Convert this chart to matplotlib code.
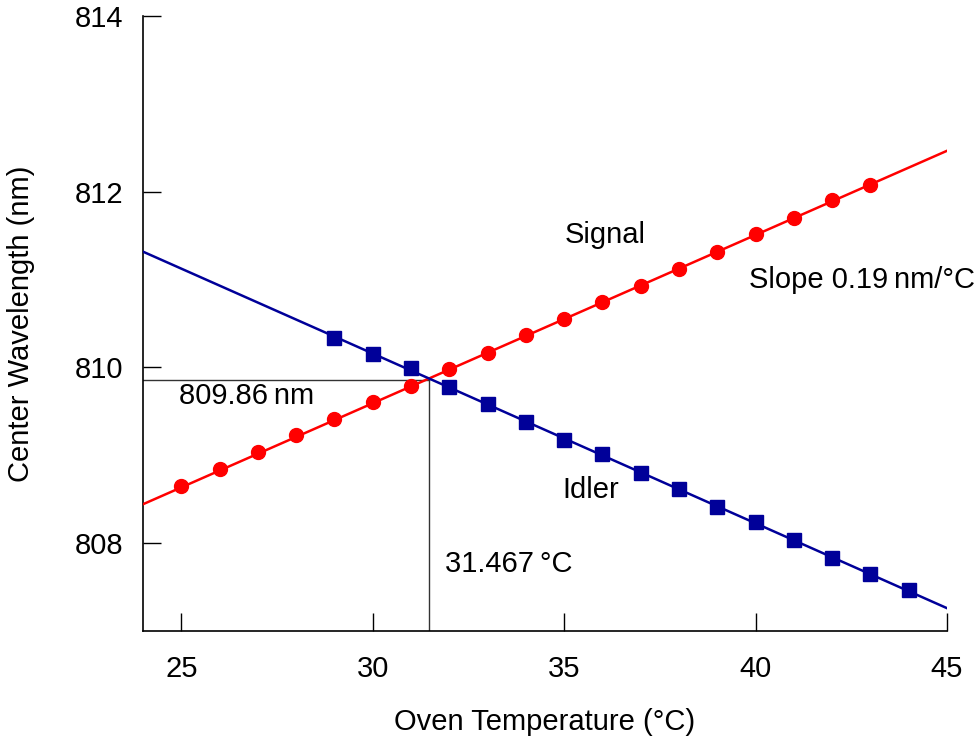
import matplotlib
matplotlib.use("Agg")
import matplotlib.pyplot as plt
import numpy as np

plt.rcParams['font.family'] = ['Liberation Sans', 'DejaVu Sans']

signal_T = [25, 26, 27, 28, 29, 30, 31, 32, 33, 34, 35, 36, 37, 38, 39, 40, 41, 42, 43]
signal_nm = [808.648, 808.841, 809.034, 809.227, 809.409, 809.602, 809.784, 809.977,
             810.159, 810.364, 810.557, 810.750, 810.932, 811.125, 811.318, 811.523,
             811.705, 811.909, 812.080]
idler_T = [29, 30, 31, 32, 33, 34, 35, 36, 37, 38, 39, 40, 41, 42, 43, 44]
idler_nm = [810.330, 810.148, 809.989, 809.773, 809.580, 809.375, 809.170, 809.011,
            808.795, 808.614, 808.409, 808.239, 808.034, 807.830, 807.648, 807.466]
fit_T = [24, 45]
signal_fit = [808.443, 812.466]
idler_fit = [811.318, 807.260]
cross_T = 31.467
cross_nm = 809.86
xticks = [25, 30, 35, 40, 45]
yticks = [808, 810, 812, 814]

red = '#ff0000'
blue = '#000099'

fig = plt.figure(figsize=(9.78, 7.45), dpi=100)
ax = fig.add_axes([0.1462, 0.1530, 0.9683 - 0.1462, 0.9785 - 0.1530])

ax.plot(fit_T, signal_fit, color=red, lw=1.8, zorder=3)
ax.plot(fit_T, idler_fit, color=blue, lw=1.8, zorder=3)
ax.plot(signal_T, signal_nm, 'o', color=red, ms=10, mec=red, zorder=4)
ax.plot(idler_T, idler_nm, 's', color=blue, ms=9.5, mec=blue, zorder=4)

ax.plot([24, cross_T], [cross_nm, cross_nm], color='#333333', lw=1.0, zorder=2)
ax.plot([cross_T, cross_T], [807, cross_nm], color='#333333', lw=1.0, zorder=2)

ax.set_xlim(24, 45)
ax.set_ylim(807, 814)
ax.set_xticks(xticks)
ax.set_yticks(yticks)
for s in ['top', 'right']:
    ax.spines[s].set_visible(False)
for s in ['left', 'bottom']:
    ax.spines[s].set_linewidth(1.2)
fs = 21
ax.tick_params(direction='in', length=13, width=1.0, labelsize=fs)
ax.tick_params(axis='x', pad=17.5)
ax.tick_params(axis='y', pad=14)

ax.set_xlabel('Oven Temperature (\u00b0C)', fontsize=fs, labelpad=18)
ax.set_ylabel('Center Wavelength (nm)', fontsize=fs, labelpad=29)

ax.text(24.95, 809.67, '809.86\u2009nm', fontsize=fs, va='center', ha='left')
ax.text(31.90, 807.76, '31.467\u2009\u00b0C', fontsize=fs, va='center', ha='left')
ax.text(35.01, 811.51, 'Signal', fontsize=fs, va='center', ha='left')
ax.text(34.96, 808.60, 'Idler', fontsize=fs, va='center', ha='left')
ax.text(39.82, 811.00, 'Slope 0.19\u2009nm/\u00b0C', fontsize=fs, va='center', ha='left', clip_on=False)

fig.savefig('out.png', dpi=100)
